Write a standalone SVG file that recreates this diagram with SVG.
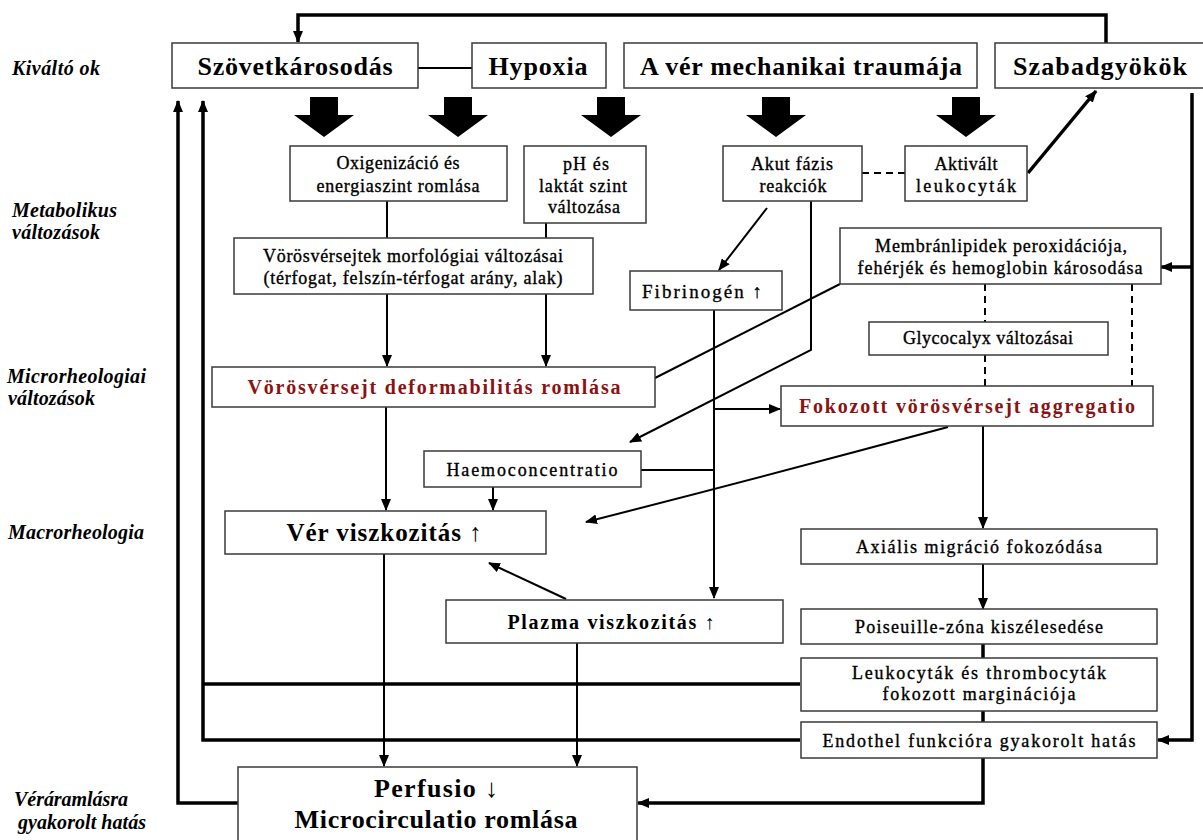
<svg xmlns="http://www.w3.org/2000/svg" width="1203" height="840" viewBox="0 0 1203 840">
<style>
.bx{fill:#fff;stroke:#3a3a3a;stroke-width:1.5}
.t{font-family:"Liberation Serif","Times New Roman",serif;fill:#000;text-anchor:middle}
.big{font-size:26px;font-weight:bold}
.sm{font-size:18px;stroke:#000;stroke-width:0.35}
.red{font-size:20px;font-weight:bold;fill:#8b1212}
.lab{font-family:"Liberation Serif","Times New Roman",serif;font-size:20px;font-weight:bold;font-style:italic;fill:#000}
.c{fill:none;stroke:#000;stroke-width:2}
.k{fill:none;stroke:#000;stroke-width:3.5}
.d{fill:none;stroke:#000;stroke-width:2;stroke-dasharray:7,5}
.ar{marker-end:url(#ah)}
</style>
<defs>
<marker id="ah" markerUnits="userSpaceOnUse" markerWidth="12" markerHeight="10" refX="11" refY="5" orient="auto">
<path d="M0,0 L12,5 L0,10 z" fill="#000"/>
</marker>
</defs>
<rect width="1203" height="840" fill="#fff"/>

<g id="labels">
<text class="lab" x="12" y="75" textLength="88" lengthAdjust="spacing">Kiváltó ok</text>
<text class="lab" x="12" y="217" textLength="105" lengthAdjust="spacing">Metabolikus</text>
<text class="lab" x="12" y="239" textLength="88" lengthAdjust="spacing">változások</text>
<text class="lab" x="7" y="383" textLength="139" lengthAdjust="spacing">Microrheologiai</text>
<text class="lab" x="8" y="405" textLength="87" lengthAdjust="spacing">változások</text>
<text class="lab" x="8" y="539" textLength="136" lengthAdjust="spacing">Macrorheologia</text>
<text class="lab" x="14" y="806" textLength="114" lengthAdjust="spacing">Véráramlásra</text>
<text class="lab" x="18" y="829" textLength="128" lengthAdjust="spacing">gyakorolt hatás</text>
</g>

<g id="block-arrows" fill="#000">
<polygon points="310,97 338,97 338,115 354,115 324,137 294,115 310,115"/>
<polygon points="444,97 472,97 472,115 488,115 458,137 428,115 444,115"/>
<polygon points="597,97 625,97 625,115 641,115 611,137 581,115 597,115"/>
<polygon points="762,97 790,97 790,115 806,115 776,137 746,115 762,115"/>
<polygon points="952,97 980,97 980,115 996,115 966,137 936,115 952,115"/>
</g>

<g id="connectors">
<path class="k ar" d="M1106,43 V15 H298 V42"/>
<path class="c" d="M418,68 H472"/>
<path class="k ar" d="M238,803 H178 V101"/>
<path class="k ar" d="M800,740 H203 V101"/>
<path class="k" d="M800,684 H203"/>
<path class="c" d="M387,201 V238"/>
<path class="c" d="M546,222 V238"/>
<path class="c ar" d="M387,294 V366"/>
<path class="c ar" d="M546,294 V366"/>
<path class="d" d="M862,173 H905"/>
<path class="k ar" d="M1028,173 L1096,91"/>
<path class="c ar" d="M767,208 L719,270"/>
<path class="c ar" d="M811,200 V350 L630,442"/>
<path class="c" d="M840,284 L655,378"/>
<path class="k ar" d="M1192,93 V740 H1158"/>
<path class="k ar" d="M1192,267 H1161"/>
<path class="d" d="M985,284 V322"/>
<path class="d" d="M985,355 V386"/>
<path class="d" d="M1132,284 V386"/>
<path class="c ar" d="M714,310 V598"/>
<path class="c ar" d="M714,409 H780"/>
<path class="c" d="M641,470 H714"/>
<path class="c ar" d="M493,487 V510"/>
<path class="c ar" d="M386,407 V510"/>
<path class="c ar" d="M948,427 Q770,475 586,522"/>
<path class="c ar" d="M983,426 V528"/>
<path class="c ar" d="M983,564 V609"/>
<path class="k" d="M983,644 V658"/>
<path class="k" d="M983,711 V722"/>
<path class="k ar" d="M983,758 V803 H638"/>
<path class="c ar" d="M566,599 L489,563"/>
<path class="c ar" d="M577,643 V766"/>
<path class="c ar" d="M384,554 V766"/>
</g>

<g id="szovetkarosodas"><rect class="bx" x="172" y="43" width="246" height="45"/><text class="t big" x="295" y="75" textLength="195" lengthAdjust="spacing">Szövetkárosodás</text></g>
<g id="hypoxia"><rect class="bx" x="472" y="43" width="134" height="45"/><text class="t big" x="538" y="75" textLength="99" lengthAdjust="spacing">Hypoxia</text></g>
<g id="mechanikai"><rect class="bx" x="624" y="43" width="353" height="45"/><text class="t big" x="801" y="75" textLength="322" lengthAdjust="spacing">A vér mechanikai traumája</text></g>
<g id="szabadgyokok"><rect class="bx" x="995" y="43" width="212" height="45"/><text class="t big" x="1100" y="75" textLength="174" lengthAdjust="spacing">Szabadgyökök</text></g>

<g id="oxigenizacio"><rect class="bx" x="290" y="146" width="217" height="55"/><text class="t sm" x="398" y="169" textLength="123" lengthAdjust="spacing">Oxigenizáció és</text><text class="t sm" x="398" y="192" textLength="163" lengthAdjust="spacing">energiaszint romlása</text></g>
<g id="ph"><rect class="bx" x="524" y="146" width="122" height="77"/><text class="t sm" x="586" y="170" textLength="46" lengthAdjust="spacing">pH és</text><text class="t sm" x="583" y="192" textLength="88" lengthAdjust="spacing">laktát szint</text><text class="t sm" x="584" y="213" textLength="72" lengthAdjust="spacing">változása</text></g>
<g id="akut"><rect class="bx" x="723" y="146" width="139" height="55"/><text class="t sm" x="792" y="170" textLength="82" lengthAdjust="spacing">Akut fázis</text><text class="t sm" x="793" y="192" textLength="67" lengthAdjust="spacing">reakciók</text></g>
<g id="aktivalt"><rect class="bx" x="905" y="146" width="122" height="55"/><text class="t sm" x="966" y="170" textLength="63" lengthAdjust="spacing">Aktivált</text><text class="t sm" x="966" y="192" textLength="100" lengthAdjust="spacing">leukocyták</text></g>

<g id="morfologia"><rect class="bx" x="234" y="238" width="359" height="56"/><text class="t sm" x="413" y="262" textLength="300" lengthAdjust="spacing">Vörösvérsejtek morfológiai változásai</text><text class="t sm" x="413" y="284" textLength="299" lengthAdjust="spacing">(térfogat, felszín-térfogat arány, alak)</text></g>
<g id="fibrinogen"><rect class="bx" x="630" y="271" width="152" height="39"/><text class="t" style="font-size:19px;stroke:#000;stroke-width:0.3" x="702" y="298" textLength="120" lengthAdjust="spacing">Fibrinogén ↑</text></g>
<g id="membran"><rect class="bx" x="840" y="228" width="321" height="56"/><text class="t sm" x="1001" y="252" textLength="252" lengthAdjust="spacing">Membránlipidek peroxidációja,</text><text class="t sm" x="1000" y="274" textLength="285" lengthAdjust="spacing">fehérjék és  hemoglobin károsodása</text></g>
<g id="glycocalyx"><rect class="bx" x="869" y="322" width="239" height="33"/><text class="t sm" x="988" y="344" textLength="170" lengthAdjust="spacing">Glycocalyx változásai</text></g>

<g id="deformabilitas"><rect class="bx" x="212" y="367" width="443" height="40"/><text class="t red" x="434" y="394" textLength="373" lengthAdjust="spacing">Vörösvérsejt deformabilitás romlása</text></g>
<g id="aggregatio"><rect class="bx" x="781" y="386" width="372" height="40"/><text class="t red" x="967" y="413" textLength="336" lengthAdjust="spacing">Fokozott vörösvérsejt aggregatio</text></g>

<g id="haemoconcentratio"><rect class="bx" x="424" y="451" width="217" height="36"/><text class="t sm" x="532" y="476" textLength="171" lengthAdjust="spacing">Haemoconcentratio</text></g>
<g id="ver-viszkozitas"><rect class="bx" x="225" y="511" width="321" height="43"/><text class="t" style="font-size:25px;font-weight:bold" x="384" y="541" textLength="195" lengthAdjust="spacing">Vér viszkozitás ↑</text></g>
<g id="plazma"><rect class="bx" x="446" y="600" width="337" height="43"/><text class="t" style="font-size:20px;font-weight:bold" x="611" y="629" textLength="207" lengthAdjust="spacing">Plazma viszkozitás ↑</text></g>

<g id="axialis"><rect class="bx" x="801" y="529" width="356" height="35"/><text class="t sm" x="979" y="553" textLength="246" lengthAdjust="spacing">Axiális migráció fokozódása</text></g>
<g id="poiseuille"><rect class="bx" x="801" y="609" width="356" height="35"/><text class="t sm" x="979" y="633" textLength="248" lengthAdjust="spacing">Poiseuille-zóna kiszélesedése</text></g>
<g id="marginacio"><rect class="bx" x="801" y="658" width="356" height="53"/><text class="t sm" x="979" y="679" textLength="254" lengthAdjust="spacing">Leukocyták és thrombocyták</text><text class="t sm" x="979" y="700" textLength="193" lengthAdjust="spacing">fokozott marginációja</text></g>
<g id="endothel"><rect class="bx" x="801" y="722" width="356" height="36"/><text class="t sm" x="979" y="747" textLength="313" lengthAdjust="spacing">Endothel funkcióra gyakorolt hatás</text></g>

<g id="perfusio"><rect class="bx" x="238" y="767" width="399" height="80"/><text class="t" style="font-size:26px;font-weight:bold" x="436" y="797" textLength="124" lengthAdjust="spacing">Perfusio ↓</text><text class="t" style="font-size:26px;font-weight:bold" x="436" y="828" textLength="283" lengthAdjust="spacing">Microcirculatio romlása</text></g>
</svg>
